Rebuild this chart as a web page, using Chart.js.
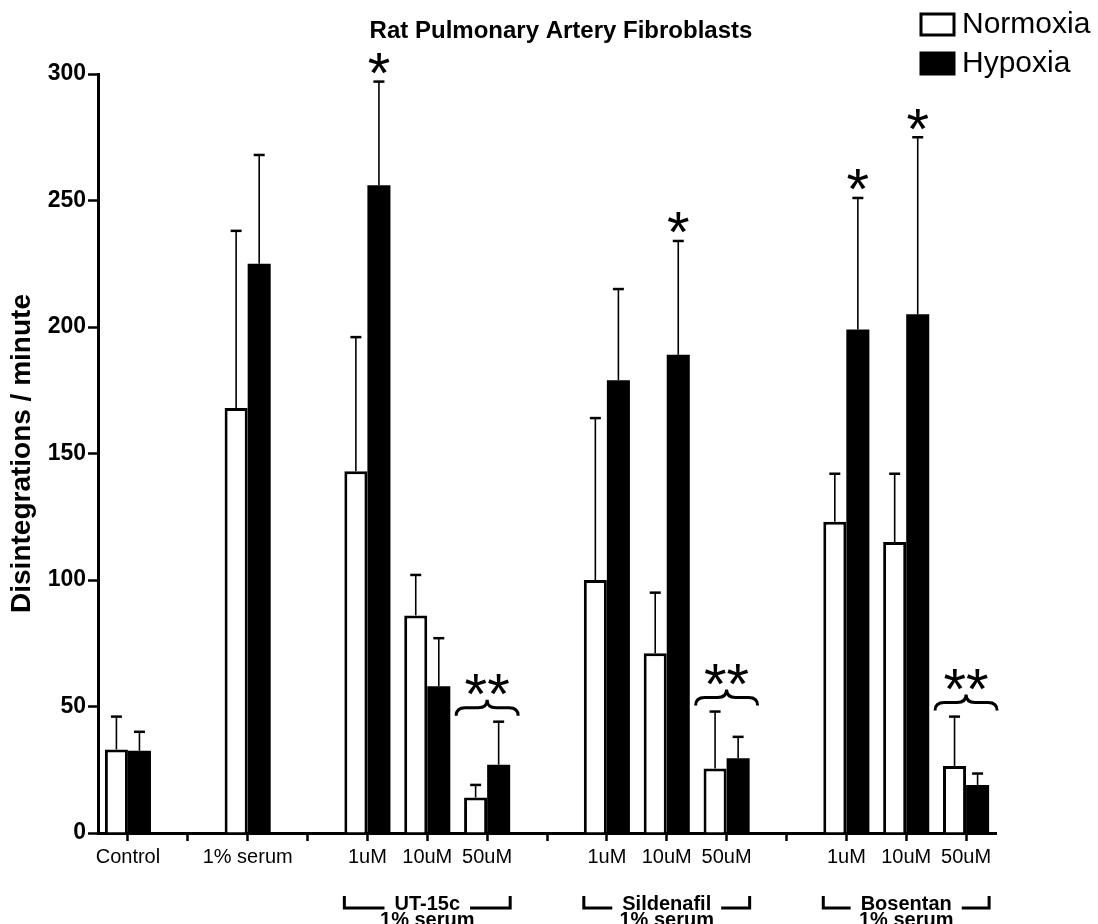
<!DOCTYPE html>
<html>
<head>
<meta charset="utf-8">
<title>Rat Pulmonary Artery Fibroblasts</title>
<script src="https://cdn.jsdelivr.net/npm/chart.js@4.4.1/dist/chart.umd.min.js"></script>
<style>
  html, body { margin: 0; padding: 0; background: #fff; }
  #wrap { width: 1098px; height: 924px; }
</style>
</head>
<body>
<div id="wrap"><canvas id="chart" width="1098" height="924"></canvas></div>
<script>
// x axis slots; empty strings are spacer slots between treatment groups
const categories = ['Control', '', '1% serum', '', '1uM', '10uM', '50uM', '', '1uM', '10uM', '50uM', '', '1uM', '10uM', '50uM'];

// mean disintegrations / minute
const normoxia = [33, null, 168, null, 143, 86, 14, null, 100, 71, 25.5, null, 123, 115, 26.5];
const hypoxia  = [32.5, null, 225, null, 256, 58, 27, null, 179, 189, 29.5, null, 199, 205, 19];

// upper error bar length for each mean
const normoxiaErr = [13, null, 70, null, 53, 16, 5, null, 64, 24, 22.5, null, 19, 27, 19.5];
const hypoxiaErr  = [7.5, null, 43, null, 41, 19, 17, null, 36, 45, 8.5, null, 52, 70, 4.5];

// y axis tick values
const yTicks = [0, 50, 100, 150, 200, 250, 300];

// significance marks, as slot indices
const singleStar = [4, 9, 12, 13];   // "*" above the hypoxia bar
const doubleStar = [6, 10, 14];      // "**" with a brace over both bars

// treatment groups bracketed under the axis
const groupNames = ['UT-15c', 'Sildenafil', 'Bosentan'];
const groupFirst = [4, 8, 12];
const groupLast  = [6, 10, 14];
const groupSub = '1% serum';

const titleText = 'Rat Pulmonary Artery Fibroblasts';
const yTitle = 'Disintegrations / minute';

const FONT = '"Liberation Sans", Arial, Helvetica, sans-serif';
Chart.defaults.font.family = FONT;
Chart.defaults.color = '#000';

// upward error bars with caps
const errorBars = {
  id: 'errorBars',
  afterDatasetsDraw(chart) {
    const ctx = chart.ctx;
    const y = chart.scales.y;
    const errs = [normoxiaErr, hypoxiaErr];
    chart.data.datasets.forEach((ds, di) => {
      const meta = chart.getDatasetMeta(di);
      meta.data.forEach((bar, i) => {
        const v = ds.data[i], e = errs[di][i];
        if (v == null || e == null) return;
        const top = y.getPixelForValue(v + e);
        ctx.save();
        ctx.strokeStyle = '#000';
        ctx.lineWidth = 1.6;
        ctx.beginPath();
        ctx.moveTo(bar.x, bar.y);
        ctx.lineTo(bar.x, top);
        ctx.stroke();
        ctx.lineWidth = 2.5;
        ctx.beginPath();
        ctx.moveTo(bar.x - 5.5, top);
        ctx.lineTo(bar.x + 5.5, top);
        ctx.stroke();
        ctx.restore();
      });
    });
  }
};

// title, legend, significance marks and group brackets
const annotations = {
  id: 'annotations',
  afterDraw(chart) {
    const { ctx, chartArea } = chart;
    const y = chart.scales.y;
    const nMeta = chart.getDatasetMeta(0);
    const hMeta = chart.getDatasetMeta(1);
    ctx.save();
    ctx.fillStyle = '#000';
    ctx.strokeStyle = '#000';

    // title
    ctx.font = 'bold 24px ' + FONT;
    ctx.textAlign = 'center';
    ctx.textBaseline = 'middle';
    ctx.fillText(titleText, 561, 31);

    // legend
    chart.data.datasets.forEach((ds, i) => {
      const bx = 921, by = 14 + i * 39;
      ctx.fillStyle = ds.backgroundColor;
      ctx.fillRect(bx, by, 33, 21);
      ctx.lineWidth = 3;
      ctx.strokeStyle = '#000';
      ctx.strokeRect(bx, by, 33, 21);
      ctx.fillStyle = '#000';
      ctx.font = '30px ' + FONT;
      ctx.textAlign = 'left';
      ctx.textBaseline = 'middle';
      ctx.fillText(ds.label, 962, by + 11);
    });

    // centred star text
    const stars = (text, cx, cy) => {
      ctx.font = '58px ' + FONT;
      ctx.textAlign = 'center';
      ctx.textBaseline = 'alphabetic';
      const m = ctx.measureText(text);
      const base = cy + (m.actualBoundingBoxAscent - m.actualBoundingBoxDescent) / 2;
      ctx.fillText(text, cx, base);
    };

    singleStar.forEach(i => {
      const bar = hMeta.data[i];
      const top = y.getPixelForValue(hypoxia[i] + hypoxiaErr[i]);
      stars('*', bar.x, top - 18);
    });

    doubleStar.forEach(i => {
      const nb = nMeta.data[i], hb = hMeta.data[i];
      const cx = (nb.x + hb.x) / 2;
      const top = Math.min(
        y.getPixelForValue(normoxia[i] + normoxiaErr[i]),
        y.getPixelForValue(hypoxia[i] + hypoxiaErr[i])
      );
      const yb = top - 6, h = 16, half = 31, r = 9;
      const ym = yb - h * 0.5, yt = yb - h;
      const x0 = cx - half, x1 = cx + half;
      ctx.lineWidth = 3;
      ctx.beginPath();
      ctx.moveTo(x0, yb);
      ctx.quadraticCurveTo(x0, ym, x0 + r, ym);
      ctx.lineTo(cx - r, ym);
      ctx.quadraticCurveTo(cx, ym, cx, yt);
      ctx.quadraticCurveTo(cx, ym, cx + r, ym);
      ctx.lineTo(x1 - r, ym);
      ctx.quadraticCurveTo(x1, ym, x1, yb);
      ctx.stroke();
      stars('**', cx, yt - 15);
    });

    // group brackets below the category labels
    const b = chartArea.bottom;
    groupNames.forEach((name, g) => {
      const first = nMeta.data[groupFirst[g]].getProps(['x', 'width'], true);
      const last = hMeta.data[groupLast[g]].getProps(['x', 'width'], true);
      const left = first.x - first.width / 2;
      const right = last.x + last.width / 2;
      const cx = (left + right) / 2;
      ctx.font = 'bold 20px ' + FONT;
      ctx.textAlign = 'center';
      ctx.textBaseline = 'alphabetic';
      const tw = ctx.measureText(name).width;
      const yTop = b + 63, yLine = b + 75;
      ctx.lineWidth = 3;
      ctx.beginPath();
      ctx.moveTo(left, yTop);
      ctx.lineTo(left, yLine);
      ctx.lineTo(cx - tw / 2 - 10, yLine);
      ctx.moveTo(cx + tw / 2 + 10, yLine);
      ctx.lineTo(right, yLine);
      ctx.lineTo(right, yTop);
      ctx.stroke();
      ctx.fillText(name, cx, b + 77);
      ctx.fillText(groupSub, cx, b + 93);
    });

    ctx.restore();
  }
};

new Chart(document.getElementById('chart'), {
  type: 'bar',
  data: {
    labels: categories,
    datasets: [
      {
        label: 'Normoxia',
        data: normoxia,
        backgroundColor: '#ffffff',
        borderColor: '#000000',
        borderWidth: 3,
        borderSkipped: 'start'
      },
      {
        label: 'Hypoxia',
        data: hypoxia,
        backgroundColor: '#000000',
        borderColor: '#000000',
        borderWidth: 0
      }
    ]
  },
  options: {
    responsive: false,
    animation: false,
    events: [],
    layout: { padding: { top: 74, right: 102, bottom: 51, left: 0 } },
    datasets: { bar: { categoryPercentage: 0.77, barPercentage: 1.0 } },
    plugins: {
      legend: { display: false },
      tooltip: { enabled: false },
      title: { display: false }
    },
    scales: {
      x: {
        z: 1,
        offset: true,
        grid: {
          display: true,
          offset: false,
          drawOnChartArea: false,
          drawTicks: true,
          tickLength: 8,
          tickWidth: 2.5,
          tickColor: '#000'
        },
        border: { display: true, color: '#000', width: 3 },
        ticks: {
          autoSkip: false,
          maxRotation: 0,
          padding: 4,
          color: '#000',
          font: { size: 20 }
        },
        afterFit(scale) { scale.height = 40; }
      },
      y: {
        z: 1,
        min: 0,
        max: 300,
        afterBuildTicks(scale) { scale.ticks = yTicks.map(v => ({ value: v })); },
        grid: {
          display: true,
          drawOnChartArea: false,
          drawTicks: true,
          tickLength: 10,
          tickWidth: 2.5,
          tickColor: '#000'
        },
        border: { display: true, color: '#000', width: 3 },
        ticks: {
          padding: 2,
          color: '#000',
          font: { size: 23, weight: 'bold' }
        },
        title: {
          display: true,
          text: yTitle,
          color: '#000',
          font: { size: 28, weight: 'bold' },
          padding: { top: 5, bottom: 0 }
        },
        afterFit(scale) { scale.width = 98; }
      }
    }
  },
  plugins: [errorBars, annotations]
});
</script>
</body>
</html>
